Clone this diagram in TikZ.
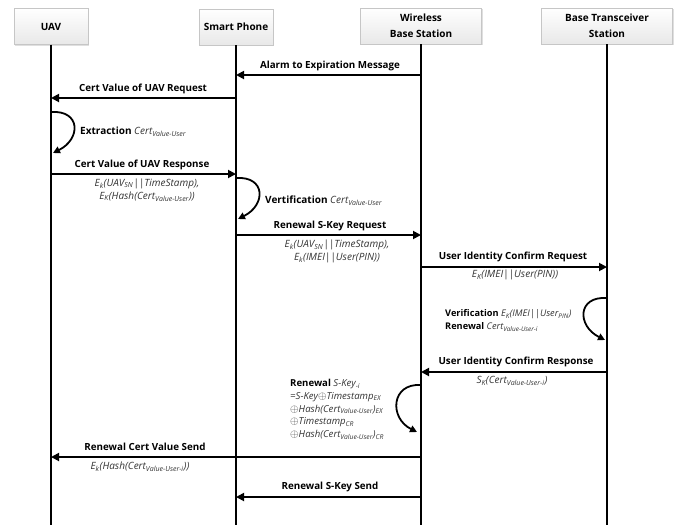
\documentclass[tikz,border=0pt]{standalone}
\usepackage{fontspec}
\setmainfont{Open Sans}
\usetikzlibrary{arrows.meta,positioning,shadows}
\newcommand{\formula}[1]{{\color{black!80}\itshape #1}}
\newcommand{\idx}[1]{\textsubscript{#1}}
\newcommand{\xor}{{\fontsize{11}{11}\selectfont$\oplus$}}

\begin{document}
\begin{tikzpicture}[x=1pt,y=-1pt,
	actor/.style={draw=gray!45, top color=white, bottom color=gray!18, minimum height=36pt, align=center,
		font=\bfseries\fontsize{10}{16}\selectfont, inner sep=2pt,
		drop shadow={shadow xshift=1pt,shadow yshift=-1pt,opacity=0.25}},
	life/.style={line width=1.8pt},
	msg/.style={line width=1.8pt, -{Triangle[length=8pt,width=8pt]}},
	selfarc/.style={line width=1.8pt, -{Triangle[length=7pt,width=7pt]}},
	lbl/.style={font=\bfseries\fontsize{9.8}{10}\selectfont, inner sep=0pt},
	txt/.style={font=\fontsize{10}{13}\selectfont, inner sep=0pt}]
				 %\draw[color=gray,step=10pt,help lines,opacity=0.3] (0,0) grid (684,525); %help grids
				 \useasboundingbox (0,0) rectangle (684,525);
				 \node[actor, minimum width=74pt] (uav) at (51,26.5) {UAV};
				 \node[actor, minimum width=74pt] (phone) at (236,27) {Smart Phone};
				 \node[actor, minimum width=121pt] (wbs) at (421,26) {Wireless\\Base Station};
				 \node[actor, minimum width=131pt] (bts) at (607,26) {Base Transceiver\\Station};
				 \coordinate (bottom) at (0,525);
				 \foreach \a in {uav,phone,wbs,bts}
				 	\draw[life] (\a.south) -- (\a.south |- bottom);
				 % alarm
				 \coordinate (w1) at (421,75) ;
				 \coordinate (p1) at (236,75) ;
				 \draw[msg] (w1)--(p1);
				 \node[lbl] (alarm) at (330,66) {Alarm to Expiration Message};
				 % cert request
				 \coordinate (p2) at (236,98) ;
				 \coordinate (u2) at (51,98) ;
				 \draw[msg] (p2)--(u2);
				 \node[lbl] (certreq) at (143,89) {Cert Value of UAV Request};
				 \coordinate (u3a) at (51,112) ;
				 \coordinate (u3b) at (53,153) ;
				 \draw[selfarc] (u3a) .. controls +(30,-2) and +(28,-14) .. (u3b);
				 \node[txt, anchor=west] (extract) at (80,132) {\textbf{Extraction} \formula{Cert\idx{Value-User}}};
				 % cert response
				 \coordinate (u4) at (51,174) ;
				 \coordinate (p4) at (236,174) ;
				 \draw[msg] (u4)--(p4);
				 \node[lbl] (certres) at (142,165) {Cert Value of UAV Response};
				 \node[txt, align=center] (certresdata) at (147,190) {\formula{E\idx{k}(UAV\idx{SN}||TimeStamp),}\\\formula{E\idx{K}(Hash(Cert\idx{Value-User}))}};
				 \coordinate (p5a) at (236,178) ;
				 \coordinate (p5b) at (238,219) ;
				 \draw[selfarc] (p5a) .. controls +(30,-2) and +(28,-14) .. (p5b);
				 \node[txt, anchor=west] (verif) at (265,201) {\textbf{Vertification} \formula{Cert\idx{Value-User}}};
				 % s-key request
				 \coordinate (p6) at (236,235) ;
				 \coordinate (w6) at (421,235) ;
				 \draw[msg] (p6)--(w6);
				 \node[lbl] (skeyreq) at (330,226) {Renewal S-Key Request};
				 \node[txt, align=center] (skeyreqdata) at (337,251.5) {\formula{E\idx{k}(UAV\idx{SN}||TimeStamp),}\\\formula{E\idx{k}(IMEI||User(PIN))}};
				 % identity request
				 \coordinate (w7) at (421,267) ;
				 \coordinate (b7) at (607,267) ;
				 \draw[msg] (w7)--(b7);
				 \node[lbl] (idreq) at (513,257) {User Identity Confirm Request};
				 \node[txt] (idreqdata) at (515,275) {\formula{E\idx{K}(IMEI||User(PIN))}};
				 \coordinate (b8a) at (607,298) ;
				 \coordinate (b8b) at (605,340) ;
				 \draw[selfarc] (b8a) .. controls +(-30,-2) and +(-28,-14) .. (b8b);
				 \node[txt, anchor=west, align=left, font=\fontsize{9.2}{13}\selectfont] (btscheck) at (445,320.5) {\textbf{Verification} \formula{E\idx{K}(IMEI||User\idx{PIN})}\\\textbf{Renewal} \formula{Cert\idx{Value-User-i}}};
				 % identity response
				 \coordinate (b9) at (607,372) ;
				 \coordinate (w9) at (421,372) ;
				 \draw[msg] (b9)--(w9);
				 \node[lbl] (idres) at (516,362) {User Identity Confirm Response};
				 \node[txt] (idresdata) at (512,381) {\formula{S\idx{K}(Cert\idx{Value-User-i})}};
				 \coordinate (w10a) at (421,385) ;
				 \coordinate (w10b) at (417,432) ;
				 \draw[selfarc] (w10a) .. controls +(-30,-2) and +(-28,-14) .. (w10b);
				 \node[txt, anchor=north west, align=left, font=\fontsize{9.6}{12.8}\selectfont] (skeycalc) at (290,379) {\textbf{Renewal} \formula{S-Key\idx{-i}}\\
				 	\formula{=S-Key\xor Timestamp\idx{EX}}\\
				 	\formula{\xor Hash(Cert\idx{Value-User})\idx{EX}}\\
				 	\formula{\xor Timestamp\idx{CR}}\\
				 	\formula{\xor Hash(Cert\idx{Value-User})\idx{CR}}};
				 % cert send
				 \coordinate (w11) at (421,457) ;
				 \coordinate (u11) at (51,457) ;
				 \draw[msg] (w11)--(u11);
				 \node[lbl] (certsend) at (145,447) {Renewal Cert Value Send};
				 \node[txt] (certsenddata) at (140,467) {\formula{E\idx{k}(Hash(Cert\idx{Value-User-i}))}};
				 % s-key send
				 \coordinate (w12) at (421,497) ;
				 \coordinate (p12) at (236,497) ;
				 \draw[msg] (w12)--(p12);
				 \node[lbl] (skeysend) at (330,487) {Renewal S-Key Send};
				\end{tikzpicture}
\end{document}
